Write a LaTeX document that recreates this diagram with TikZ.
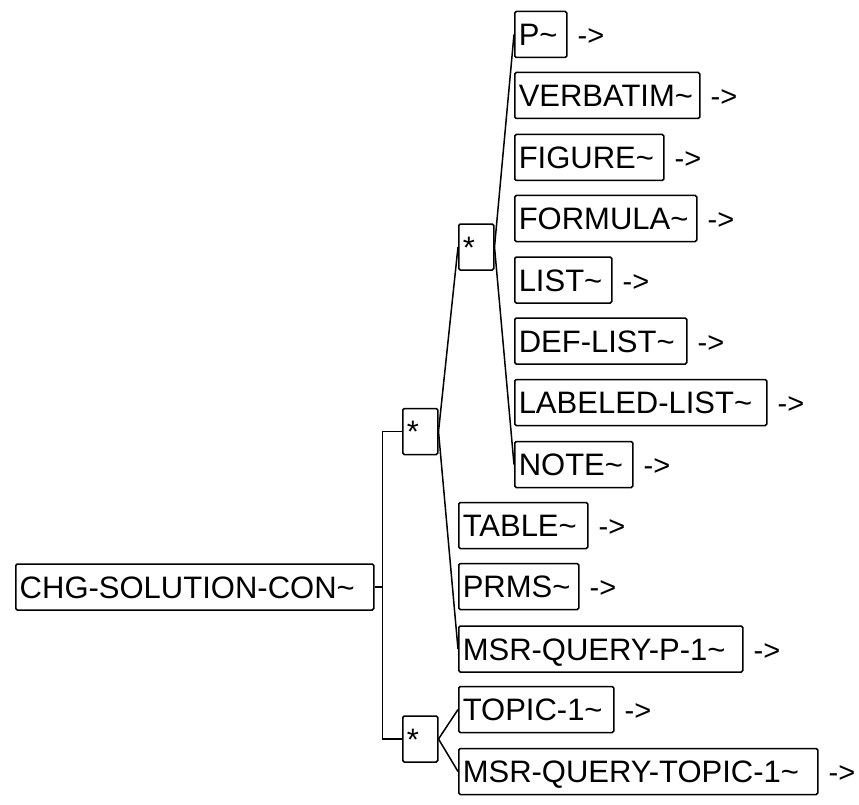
\documentclass[tikz,border=0pt]{standalone}
\usepackage{fontspec}
\setmainfont{Liberation Sans}
\begin{document}
\begin{tikzpicture}[x=1pt,y=-1pt,
  box/.style={draw, line width=1.5pt, rounded corners=1.5pt, anchor=west,
    minimum height=46pt, inner xsep=4pt, inner ysep=0pt, align=left,
    text height=22pt, text depth=0pt, font=\fontsize{31}{31}\selectfont},
  arr/.style={anchor=west, inner sep=0pt, text height=22pt, text depth=0pt,
    font=\fontsize{29}{29}\selectfont},
  conn/.style={line width=1.5pt}]
\fill[white] (0,0) rectangle (859,805);
\useasboundingbox (0,0) rectangle (859,805);

\node[box, text width=350pt] (root) at (15,587) {CHG-SOLUTION-CON\char"7E};
\node[box, text width=27pt] (s1) at (402,431.5) {*};
\node[box, text width=27pt] (s2) at (402,739) {*};
\node[box, text width=27pt] (s3) at (458,247) {*};

\node[box, text width=44pt]  (p)    at (514,34.5)  {P\char"7E};
\node[box, text width=177pt] (verb) at (514,95.5)  {VERBATIM\char"7E};
\node[box, text width=141pt] (fig)  at (514,157.5) {FIGURE\char"7E};
\node[box, text width=174pt] (form) at (514,218.5) {FORMULA\char"7E};
\node[box, text width=89pt]  (list) at (514,280)   {LIST\char"7E};
\node[box, text width=164pt] (dl)   at (514,341)   {DEF-LIST\char"7E};
\node[box, text width=244pt] (ll)   at (514,402.5) {LABELED-LIST\char"7E};
\node[box, text width=110pt] (note) at (514,464.5) {NOTE\char"7E};
\node[box, text width=121pt] (tab)  at (458,525.5) {TABLE\char"7E};
\node[box, text width=112pt] (prms) at (458,586.5) {PRMS\char"7E};
\node[box, text width=276pt] (mqp)  at (458,649)   {MSR-QUERY-P-1\char"7E};
\node[box, text width=147pt] (top)  at (458,709.5) {TOPIC-1\char"7E};
\node[box, text width=351pt] (mqt)  at (458,771.5) {MSR-QUERY-TOPIC-1\char"7E};

\foreach \n in {p,verb,fig,form,list,dl,ll,note,tab,prms,mqp,top,mqt}
  \node[arr] (a\n) at ([xshift=10pt]\n.east) {-{}>};

\draw[conn] (root.east) -- ++(8,0) coordinate (j);
\draw[conn] (s1.west) -| (j) |- (s2.west);
\draw[conn] (s1.east) -- (s3.west);
\draw[conn] (s1.east) -- (mqp.west);
\draw[conn] (s3.east) -- (p.west);
\draw[conn] (s3.east) -- (note.west);
\draw[conn] (s2.east) -- (top.west);
\draw[conn] (s2.east) -- (mqt.west);
\end{tikzpicture}
\end{document}
